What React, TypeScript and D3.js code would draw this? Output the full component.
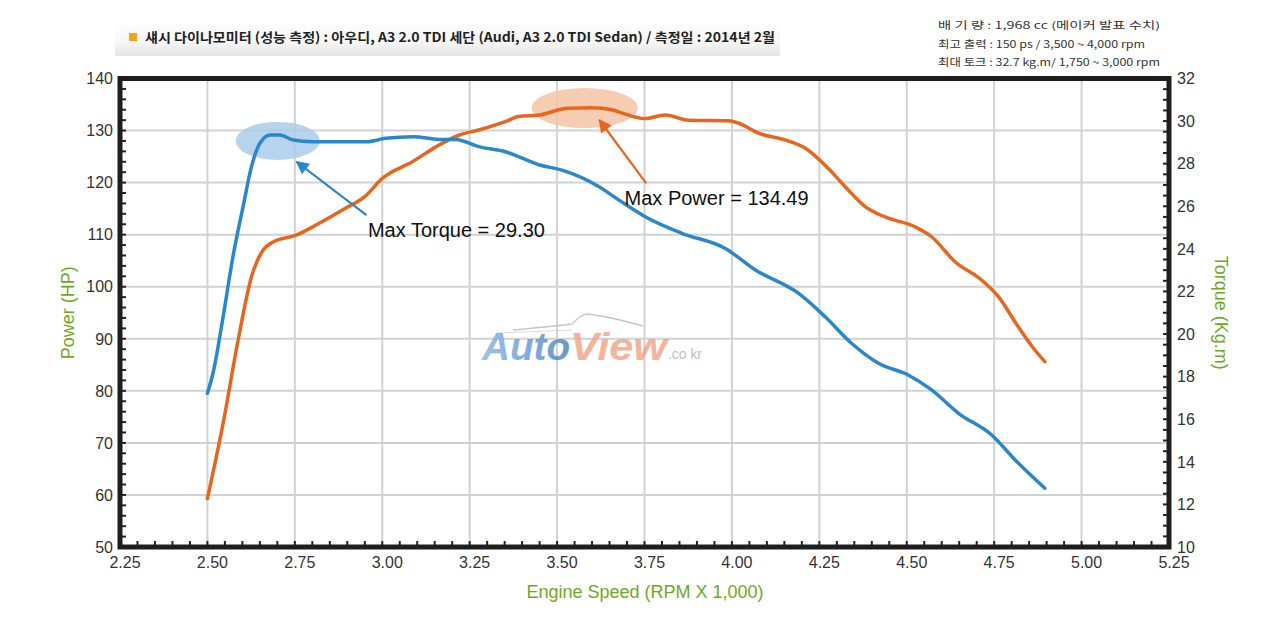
import { useEffect, useRef } from 'react'
import * as d3 from 'd3'

// power curve: [rpm x1000, HP]
const POWER: [number, number][] = [
  [2.5, 59.3], [2.545, 73.8], [2.588, 89.8], [2.626, 101.9], [2.659, 107.0],
  [2.688, 108.6], [2.754, 109.9], [2.82, 112.2], [2.896, 115.1], [2.95, 117.3],
  [3.0, 120.8], [3.086, 124.0], [3.162, 127.2], [3.219, 129.1], [3.276, 130.1],
  [3.352, 131.7], [3.39, 132.7], [3.45, 133.0], [3.53, 134.3], [3.6, 134.4],
  [3.657, 134.0], [3.676, 133.6], [3.752, 132.3], [3.81, 133.0], [3.876, 132.0],
  [3.99, 131.9], [4.02, 131.4], [4.076, 129.5], [4.152, 128.2], [4.21, 126.6],
  [4.276, 122.7], [4.324, 119.2], [4.381, 115.4], [4.438, 113.4], [4.524, 111.5],
  [4.571, 109.6], [4.638, 104.8], [4.714, 101.3], [4.762, 98.1], [4.819, 92.3],
  [4.867, 87.8], [4.895, 85.6],
]

// torque curve: [rpm x1000, kg.m]
const TORQUE: [number, number][] = [
  [2.5, 17.22], [2.516, 18.16], [2.545, 20.82], [2.573, 23.63], [2.602, 25.98],
  [2.626, 27.86], [2.65, 28.96], [2.68, 29.35], [2.706, 29.35], [2.745, 29.11],
  [2.8, 29.03], [2.878, 29.03], [2.954, 29.03], [3.01, 29.19], [3.09, 29.27],
  [3.162, 29.14], [3.21, 29.14], [3.276, 28.8], [3.352, 28.56], [3.45, 27.94],
  [3.514, 27.7], [3.62, 26.92], [3.676, 26.3], [3.752, 25.51], [3.857, 24.73],
  [3.98, 24.03], [4.067, 23.01], [4.19, 21.92], [4.266, 20.82], [4.342, 19.57],
  [4.419, 18.63], [4.504, 18.08], [4.571, 17.38], [4.648, 16.28], [4.743, 15.26],
  [4.81, 14.09], [4.895, 12.76],
]

const X_TICKS = ['2.25', '2.50', '2.75', '3.00', '3.25', '3.50', '3.75', '4.00', '4.25', '4.50', '4.75', '5.00', '5.25']
const HP_TICKS = [50, 60, 70, 80, 90, 100, 110, 120, 130, 140]
const TQ_TICKS = [10, 12, 14, 16, 18, 20, 22, 24, 26, 28, 30, 32]

const TITLE = '섀시 다이나모미터 (성능 측정)  :  아우디, A3 2.0 TDI 세단 (Audi, A3 2.0 TDI Sedan) / 측정일 : 2014년 2월'
const SPECS = [
  '배  기  량 : 1,968 cc   (메이커 발표 수치)',
  '최고 출력 : 150 ps / 3,500 ~ 4,000 rpm',
  '최대 토크 : 32.7 kg.m/ 1,750 ~ 3,000 rpm',
]

// annotations in data units: ellipse centre, arrow tail -> tip, label anchor
const TORQUE_NOTE = { label: 'Max Torque = 29.30', centre: [2.701, 29.07], tail: [2.955, 25.59], tip: [2.755, 28.09], text: [2.959, 24.56] }
const POWER_NOTE = { label: 'Max Power = 134.49', centre: [3.579, 134.33], tail: [3.755, 119.87], tip: [3.621, 132.03], text: [3.693, 115.7] }

const ORANGE = '#e7661f'
const BLUE = '#2a87c9'
const GREEN = '#72a723'
const FONT = '"Liberation Sans", Arial, sans-serif'
const KFONT = '"Noto Sans CJK KR", "Liberation Sans", sans-serif'

export default function App() {
  const svgRef = useRef<SVGSVGElement>(null)

  useEffect(() => {
    document.body.style.margin = '0'
    const svgEl = svgRef.current
    if (!svgEl) return
    const W = 1280, H = 619
    const svg = d3.select(svgEl)
    svg.selectAll('*').remove()
    svg.attr('width', W).attr('height', H)

    const x = d3.scaleLinear().domain([2.25, 5.25]).range([120, 1169])
    const yP = d3.scaleLinear().domain([50, 140]).range([547, 78.5])
    const yT = d3.scaleLinear().domain([10, 32]).range([547, 78.5])
    const [x0, x1] = x.range()
    const [yb, yt] = yP.range()

    const defs = svg.append('defs')
    const band = defs.append('linearGradient').attr('id', 'band').attr('x1', 0).attr('x2', 0).attr('y1', 0).attr('y2', 1)
    band.append('stop').attr('offset', '0%').attr('stop-color', '#ffffff')
    band.append('stop').attr('offset', '60%').attr('stop-color', '#f6f6f6')
    band.append('stop').attr('offset', '100%').attr('stop-color', '#e4e4e4')
    const auto = defs.append('linearGradient').attr('id', 'auto').attr('x1', 0).attr('x2', 1).attr('y1', 0).attr('y2', 0)
    auto.append('stop').attr('offset', '0%').attr('stop-color', '#8cb8e2')
    auto.append('stop').attr('offset', '100%').attr('stop-color', '#4f86c6')

    const marker = (id: string, color: string) => {
      defs.append('marker')
        .attr('id', id).attr('viewBox', '0 0 10 10')
        .attr('refX', 9).attr('refY', 5)
        .attr('markerWidth', 7).attr('markerHeight', 6)
        .attr('markerUnits', 'strokeWidth')
        .attr('orient', 'auto')
        .append('path').attr('d', 'M0,0 L10,5 L0,10 Z').attr('fill', color)
    }
    marker('arrBlue', BLUE)
    marker('arrOrange', ORANGE)

    svg.append('rect').attr('width', W).attr('height', H).attr('fill', '#fff')

    // Header band
    svg.append('rect').attr('x', 115).attr('y', 22).attr('width', 665).attr('height', 34).attr('fill', 'url(#band)')
    svg.append('rect').attr('x', 129).attr('y', 33).attr('width', 8).attr('height', 8).attr('fill', '#f5a314')
    svg.append('text')
      .attr('x', 145).attr('y', 42)
      .attr('textLength', 630).attr('lengthAdjust', 'spacingAndGlyphs')
      .attr('fill', '#222').style('font-family', KFONT).style('font-size', '13px').style('font-weight', 'bold')
      .text(TITLE)

    SPECS.forEach((s, i) => {
      svg.append('text')
        .attr('x', 938).attr('y', 29 + i * 18.5)
        .attr('textLength', i === 1 ? 207 : 222).attr('lengthAdjust', 'spacingAndGlyphs')
        .attr('fill', '#333').style('font-family', KFONT).style('font-size', '10px')
        .text(s)
    })

    // Grid
    X_TICKS.map(Number).filter(t => t > 2.25 && t < 5.25).forEach(t => {
      svg.append('line').attr('x1', x(t)).attr('x2', x(t)).attr('y1', yt).attr('y2', yb)
        .attr('stroke', '#d2d2d2').attr('stroke-width', 2)
    })
    HP_TICKS.filter(t => t > 50 && t < 140).forEach(t => {
      svg.append('line').attr('x1', x0).attr('x2', x1).attr('y1', yP(t)).attr('y2', yP(t))
        .attr('stroke', '#d2d2d2').attr('stroke-width', 2)
    })

    // Watermark
    const wm = svg.append('g').attr('opacity', 0.85)
    wm.append('path')
      .attr('d', 'M513,330 C540,327 560,326 572,324 C578,318 582,314 588,314 C605,316 625,321 643,326')
      .attr('fill', 'none').attr('stroke', '#bdbdbd').attr('stroke-width', 1.5)
    wm.append('path')
      .attr('d', 'M498,333 L572,330')
      .attr('fill', 'none').attr('stroke', '#d6d6d6').attr('stroke-width', 1)
    wm.append('text').attr('x', 482).attr('y', 360)
      .attr('textLength', 88).attr('lengthAdjust', 'spacingAndGlyphs')
      .attr('fill', 'url(#auto)').style('font-family', FONT).style('font-size', '38px')
      .style('font-weight', 'bold').style('font-style', 'italic')
      .text('Auto')
    wm.append('text').attr('x', 570).attr('y', 360)
      .attr('textLength', 97).attr('lengthAdjust', 'spacingAndGlyphs')
      .attr('fill', '#f2a78a').style('font-family', FONT).style('font-size', '38px')
      .style('font-weight', 'bold').style('font-style', 'italic')
      .text('View')
    wm.append('text').attr('x', 668).attr('y', 359)
      .attr('textLength', 34).attr('lengthAdjust', 'spacingAndGlyphs')
      .attr('fill', '#b5b5b5').style('font-family', FONT).style('font-size', '14px')
      .text('.co kr')

    // Curves
    const line = (ys: d3.ScaleLinear<number, number>) =>
      d3.line<[number, number]>().x(d => x(d[0])).y(d => ys(d[1])).curve(d3.curveMonotoneX)

    // Highlight ellipses
    svg.append('ellipse')
      .attr('cx', x(TORQUE_NOTE.centre[0])).attr('cy', yT(TORQUE_NOTE.centre[1]))
      .attr('rx', 42).attr('ry', 19).attr('fill', '#a9cdea').attr('opacity', 0.85)
    svg.append('ellipse')
      .attr('cx', x(POWER_NOTE.centre[0])).attr('cy', yP(POWER_NOTE.centre[1]))
      .attr('rx', 53).attr('ry', 20).attr('fill', '#f4c3a6').attr('opacity', 0.85)

    svg.append('path').datum(POWER).attr('d', line(yP))
      .attr('fill', 'none').attr('stroke', ORANGE).attr('stroke-width', 3.5)
      .attr('stroke-linejoin', 'round').attr('stroke-linecap', 'round')
    svg.append('path').datum(TORQUE).attr('d', line(yT))
      .attr('fill', 'none').attr('stroke', BLUE).attr('stroke-width', 3.5)
      .attr('stroke-linejoin', 'round').attr('stroke-linecap', 'round')

    // Arrows + labels
    svg.append('line')
      .attr('x1', x(TORQUE_NOTE.tail[0])).attr('y1', yT(TORQUE_NOTE.tail[1]))
      .attr('x2', x(TORQUE_NOTE.tip[0])).attr('y2', yT(TORQUE_NOTE.tip[1]))
      .attr('stroke', BLUE).attr('stroke-width', 2.2).attr('marker-end', 'url(#arrBlue)')
    svg.append('line')
      .attr('x1', x(POWER_NOTE.tail[0])).attr('y1', yP(POWER_NOTE.tail[1]))
      .attr('x2', x(POWER_NOTE.tip[0])).attr('y2', yP(POWER_NOTE.tip[1]))
      .attr('stroke', ORANGE).attr('stroke-width', 2.2).attr('marker-end', 'url(#arrOrange)')
    svg.append('text')
      .attr('x', x(TORQUE_NOTE.text[0])).attr('y', yT(TORQUE_NOTE.text[1]))
      .attr('fill', '#111').style('font-family', FONT).style('font-size', '20px')
      .text(TORQUE_NOTE.label)
    svg.append('text')
      .attr('x', x(POWER_NOTE.text[0])).attr('y', yP(POWER_NOTE.text[1]))
      .attr('fill', '#111').style('font-family', FONT).style('font-size', '20px')
      .text(POWER_NOTE.label)

    // Minor ticks (inside the frame)
    const tick = { stroke: '#222', w: 2, len: 6 }
    d3.range(2.25, 5.2501, 0.05).forEach(t => {
      svg.append('line').attr('x1', x(t)).attr('x2', x(t)).attr('y1', yb).attr('y2', yb - tick.len)
        .attr('stroke', tick.stroke).attr('stroke-width', tick.w)
    })
    d3.range(50, 140.01, 2).forEach(t => {
      svg.append('line').attr('x1', x0).attr('x2', x0 + tick.len).attr('y1', yP(t)).attr('y2', yP(t))
        .attr('stroke', tick.stroke).attr('stroke-width', tick.w)
    })
    d3.range(10, 32.01, 0.5).forEach(t => {
      svg.append('line').attr('x1', x1).attr('x2', x1 - tick.len).attr('y1', yT(t)).attr('y2', yT(t))
        .attr('stroke', tick.stroke).attr('stroke-width', tick.w)
    })

    // Frame
    svg.append('rect').attr('x', x0).attr('y', yt).attr('width', x1 - x0).attr('height', yb - yt)
      .attr('fill', 'none').attr('stroke', '#1e1e1e').attr('stroke-width', 5)

    // Tick labels
    X_TICKS.forEach(t => {
      svg.append('text').attr('x', x(Number(t)) + 5).attr('y', 568)
        .attr('text-anchor', 'middle').attr('fill', '#333')
        .style('font-family', FONT).style('font-size', '16px').text(t)
    })
    HP_TICKS.forEach(t => {
      svg.append('text').attr('x', 113).attr('y', yP(t)).attr('dy', '0.36em')
        .attr('text-anchor', 'end').attr('fill', '#333')
        .style('font-family', FONT).style('font-size', '16px').text(t)
    })
    TQ_TICKS.forEach(t => {
      svg.append('text').attr('x', 1177).attr('y', yT(t)).attr('dy', '0.36em')
        .attr('fill', '#333')
        .style('font-family', FONT).style('font-size', '16px').text(t)
    })

    // Axis titles
    svg.append('text')
      .attr('transform', `translate(74,${(yt + yb) / 2}) rotate(-90)`)
      .attr('text-anchor', 'middle').attr('fill', GREEN)
      .style('font-family', FONT).style('font-size', '18px').text('Power (HP)')
    svg.append('text')
      .attr('transform', `translate(1215,${(yt + yb) / 2}) rotate(90)`)
      .attr('text-anchor', 'middle').attr('fill', GREEN)
      .style('font-family', FONT).style('font-size', '18px').text('Torque (Kg.m)')
    svg.append('text')
      .attr('x', 645).attr('y', 598)
      .attr('text-anchor', 'middle').attr('fill', GREEN)
      .style('font-family', FONT).style('font-size', '18px').text('Engine Speed (RPM X 1,000)')
  }, [])

  return <svg ref={svgRef} style={{ display: 'block' }} />
}
